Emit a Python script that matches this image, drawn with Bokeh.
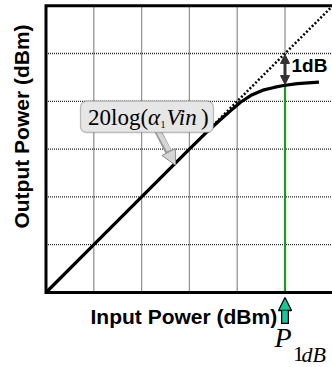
import math
from bokeh.plotting import figure
from bokeh.models import Range1d, Arrow, NormalHead, BoxAnnotation, Label
from bokeh.embed import file_html
from bokeh.resources import INLINE

# ---- data ----
grid_ticks = [1, 2, 3, 4, 5]
axis_max = 6
pin = [0, 1, 2, 3, 3.4, 3.7, 3.86, 4.07, 4.28, 4.56, 4.77, 4.97, 5.26, 5.71]
pout = [0, 1, 2, 3, 3.39, 3.66, 3.80, 3.98, 4.12, 4.24, 4.29, 4.33, 4.37, 4.40]
ideal_x = [0, 6]
ideal_y = [0, 6]
p1db_in = 5.0
p1db_out = 4.33
p1db_ideal = 5.0
callout_target = 2.71

# ---- layout helpers (pixel -> data) ----
W, H = 332, 367
X0, Y0, S = 45.5, 292.0, 47.8
def dx(px):
    return (px - X0) / S
def dy(py):
    return (Y0 - py) / S

p = figure(width=W, height=H, output_backend="svg", toolbar_location=None,
           x_range=Range1d(dx(0), dx(W)), y_range=Range1d(dy(H), dy(0)),
           min_border=0, x_axis_location=None, y_axis_location=None)
p.outline_line_color = None
p.xgrid.visible = False
p.ygrid.visible = False
p.background_fill_color = "white"
p.border_fill_color = "white"

SANS = "Liberation Sans"
SERIF = "Liberation Serif"
K = 0.36  # baseline correction (fraction of font size)

def txt(px, py, s, font, size, style="normal", align="left", angle=0.0, color="black"):
    shift = K * size
    if angle:
        px = px - shift
    else:
        py = py - shift
    p.add_layout(Label(x=dx(px), y=dy(py), text=s, text_font=font, text_font_size=f"{size}px",
                       text_font_style=style, text_align=align, text_baseline="alphabetic",
                       angle=angle, text_color=color))

# grid
p.segment(x0=grid_ticks, y0=[0]*len(grid_ticks), x1=grid_ticks, y1=[axis_max]*len(grid_ticks),
          line_color="#2a2a2a", line_width=1.3, line_dash="1 1")
p.segment(x0=[0]*len(grid_ticks), y0=grid_ticks, x1=[axis_max]*len(grid_ticks), y1=grid_ticks,
          line_color="#2a2a2a", line_width=1.3, line_dash="1 1")

# ideal (linear) extrapolation
p.line(ideal_x, ideal_y, line_color="black", line_width=2.5, line_dash="2 2")

# green P1dB line
p.segment(x0=[p1db_in], y0=[0], x1=[p1db_in], y1=[p1db_out], line_color="#1f9a1f", line_width=2.2)

# actual curve
p.line(pin, pout, line_color="black", line_width=3.2, line_join="round")

# frame borders
p.line([axis_max, 0, 0, axis_max], [axis_max, axis_max, 0, 0], line_color="black",
       line_width=3, line_join="miter")

# 1dB double arrow
p.add_layout(Arrow(x_start=p1db_in, y_start=p1db_out + 0.02, x_end=p1db_in, y_end=p1db_ideal - 0.02,
                   line_color="#333333", line_width=3,
                   start=NormalHead(size=9, fill_color="#333333", line_color="#333333"),
                   end=NormalHead(size=9, fill_color="#333333", line_color="#333333")))
txt(291, 71.5, "1dB", SANS, 19, style="bold")

# callout pointer
p.add_layout(Arrow(x_start=dx(155), y_start=dy(126), x_end=callout_target, y_end=callout_target - 0.05,
                   line_color="#9a9a9a", line_width=7,
                   end=NormalHead(size=15, fill_color="#d6d6d6", line_color="#8a8a8a", line_width=1)))
p.add_layout(Arrow(x_start=dx(155), y_start=dy(126), x_end=dx(168.5), y_end=dy(150),
                   line_color="#d6d6d6", line_width=4.5, end=None))

# callout box
p.add_layout(BoxAnnotation(left=dx(80), right=dx(213), top=dy(100.5), bottom=dy(132),
                           fill_color="#e6e6e6", fill_alpha=1.0, line_color="#3a3a3a",
                           line_width=1.3, border_radius=6, level="annotation"))

# callout text
base = 125
txt(87.5, base, "20log(", SERIF, 23)
txt(147.5, base, "α", SERIF, 23, style="italic")
txt(160, 128, "1", SERIF, 10)
txt(166, base, "Vin", SERIF, 23, style="italic")
txt(200.5, base, ")", SERIF, 23)

# axis titles
txt(90, 323.5, "Input Power (dBm)", SANS, 21, style="bold")
txt(29, 126, "Output Power (dBm)", SANS, 21, style="bold", align="center", angle=math.pi / 2)

# P1dB marker arrow
p.segment(x0=[p1db_in], y0=[dy(323.5)], x1=[p1db_in], y1=[dy(304)], line_color="black", line_width=8)
p.add_layout(Arrow(x_start=p1db_in, y_start=dy(322.3), x_end=p1db_in, y_end=dy(297),
                   line_color="#1cc49a", line_width=5.5,
                   end=NormalHead(size=13, fill_color="#1cc49a", line_color="black", line_width=1.3)))

# P_1dB label
txt(274, 347.5, "P", SERIF, 28, style="italic")
txt(292.5, 361.5, "1", SERIF, 22)
txt(301, 361.5, "dB", SERIF, 22, style="italic")

open("out.html", "w").write(file_html(p, INLINE))
